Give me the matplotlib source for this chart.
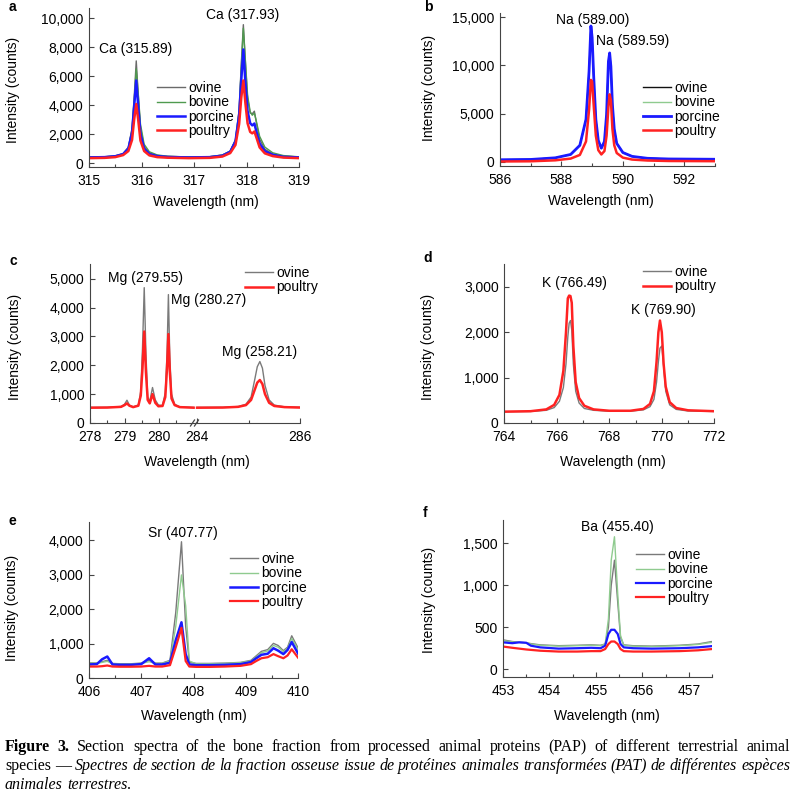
import matplotlib

matplotlib.use("Agg")
import matplotlib.pyplot as plt
from matplotlib.lines import Line2D
from matplotlib.ticker import FixedLocator, MultipleLocator, StrMethodFormatter

plt.rcParams["font.family"] = "Liberation Sans"
plt.rcParams["font.size"] = 10

W, H = 795, 797

# ---- a: Ca ----
ca_x = [315.0, 315.3, 315.5, 315.65, 315.75, 315.82, 315.86, 315.90, 315.94, 315.98, 316.05,
        316.15, 316.3, 316.5, 316.9, 317.3, 317.54, 317.69, 317.79, 317.86, 317.90, 317.94,
        317.98, 318.02, 318.07, 318.11, 318.15, 318.19, 318.25, 318.35, 318.5, 318.7, 319.0]
ca_ovine = [420, 440, 500, 650, 1100, 2400, 4500, 7050, 4600, 2450, 1150, 700, 530, 460, 420,
            440, 550, 820, 1600, 3700, 6800, 9550, 6900, 4500, 3450, 3400, 3580, 2750, 1650, 950, 630, 480, 420]
ca_bovine = [410, 430, 490, 640, 1050, 2300, 4300, 6500, 4700, 2700, 1300, 780, 560, 470, 420,
             440, 560, 830, 1600, 3600, 6600, 9300, 7000, 4700, 3550, 3300, 3450, 2850, 1850, 1100, 710, 520, 430]
ca_porcine = [390, 410, 470, 620, 1000, 2100, 3900, 5700, 3800, 2000, 1000, 620, 480, 420, 390,
              410, 510, 780, 1500, 3300, 5700, 7840, 5500, 3600, 2750, 2600, 2730, 2150, 1350, 820, 570, 430, 390]
ca_poultry = [340, 360, 410, 550, 830, 1600, 3000, 4080, 2900, 1550, 830, 530, 410, 370, 340,
              360, 450, 690, 1250, 2700, 4500, 5700, 4100, 2750, 2150, 2050, 2180, 1750, 1080, 670, 480, 380, 340]

# ---- b: Na ----
na_x = [586.0, 587.0, 587.8, 588.3, 588.6, 588.8, 588.9, 588.96, 589.0, 589.05, 589.12, 589.2, 589.3,
        589.4, 589.47, 589.53, 589.57, 589.61, 589.66, 589.72, 589.8, 590.0, 590.3, 590.8, 591.5, 593.0]
na_porcine = [200, 230, 400, 750, 1700, 4400, 9400, 14100, 12900, 8900, 4400, 2200, 1400,
              2100, 4900, 10400, 11300, 9900, 5900, 3400, 1900, 950, 550, 350, 280, 250]
na_ovine = na_porcine  # hidden under the porcine trace in the figure
na_bovine = na_porcine
na_poultry = [20, 40, 140, 320, 700, 2100, 5400, 8500, 8300, 5900, 2700, 1200, 750,
              1100, 2700, 5700, 7000, 6400, 3400, 1700, 900, 420, 220, 120, 70, 50]

# ---- c: Mg (broken axis) ----
mg_x_left = [278.0, 278.5, 278.9, 279.0, 279.07, 279.14, 279.25, 279.4, 279.47, 279.52, 279.57, 279.62, 279.67,
             279.73, 279.81, 279.89, 279.98, 280.1, 280.18, 280.23, 280.27, 280.31, 280.36, 280.45, 280.6, 281.0]
mg_ovine_left = [540, 545, 570, 650, 790, 620, 560, 620, 1100, 2600, 4690, 2400, 900,
                 750, 1230, 800, 620, 610, 1050, 2400, 4450, 2300, 1000, 650, 560, 540]
mg_poultry_left = [530, 535, 560, 620, 680, 600, 550, 600, 950, 1900, 3170, 1750, 800,
                   680, 1000, 700, 580, 590, 900, 1900, 3080, 1800, 850, 620, 550, 530]
mg_x_right = [284.0, 284.5, 284.8, 284.95, 285.05, 285.12, 285.17, 285.22, 285.27, 285.32, 285.4, 285.5, 285.7, 286.0]
mg_ovine_right = [540, 545, 570, 650, 900, 1500, 1950, 2130, 1900, 1300, 800, 620, 560, 545]
mg_poultry_right = [530, 535, 560, 620, 800, 1150, 1400, 1490, 1350, 1000, 700, 590, 550, 535]

# ---- d: K ----
k_x = [764.0, 765.0, 765.6, 765.9, 766.1, 766.25, 766.35, 766.42, 766.47, 766.52, 766.57, 766.63, 766.72,
       766.85, 767.05, 767.4, 768.0, 768.8, 769.3, 769.55, 769.7, 769.8, 769.87, 769.93, 770.0, 770.07,
       770.15, 770.3, 770.55, 771.0, 772.0]
k_poultry = [250, 260, 300, 400, 620, 1150, 2000, 2750, 2810, 2800, 2650, 1700, 900, 550, 380, 300,
             270, 270, 310, 420, 700, 1350, 2000, 2260, 2000, 1300, 800, 460, 330, 280, 260]
k_ovine = [250, 255, 280, 340, 480, 780, 1300, 1900, 2200, 2260, 2050, 1300, 700, 440, 320, 280,
           260, 260, 290, 360, 520, 900, 1350, 1650, 1700, 1250, 700, 400, 300, 265, 255]

# ---- e: Sr ----
sr_x = [406.0, 406.15, 406.25, 406.35, 406.45, 406.6, 406.8, 407.0, 407.15, 407.27, 407.4, 407.55, 407.66,
        407.77, 407.85, 407.92, 408.05, 408.3, 408.6, 408.9, 409.1, 409.2, 409.3, 409.42, 409.53, 409.62,
        409.72, 409.8, 409.88, 410.0]
sr_ovine = [450, 440, 480, 520, 430, 420, 420, 440, 520, 440, 440, 520, 1900, 3950, 1500, 460, 430, 430,
            440, 460, 520, 650, 780, 830, 1010, 950, 800, 900, 1230, 880]
sr_bovine = [440, 430, 460, 490, 420, 410, 410, 430, 480, 430, 430, 500, 1500, 2990, 2100, 500, 420, 420,
             430, 450, 500, 620, 740, 790, 950, 900, 770, 870, 1150, 830]
sr_porcine = [400, 410, 550, 630, 400, 390, 390, 410, 580, 400, 400, 450, 1100, 1620, 700, 400, 380, 380,
              390, 410, 470, 580, 680, 710, 870, 800, 700, 820, 1050, 720]
sr_poultry = [340, 340, 350, 370, 340, 335, 335, 340, 360, 340, 340, 380, 900, 1460, 500, 340, 330, 330,
              340, 360, 410, 500, 580, 610, 700, 640, 580, 660, 840, 600]

# ---- f: Ba ----
ba_x = [453.0, 453.2, 453.35, 453.5, 453.6, 453.8, 454.2, 454.6, 454.9, 455.1, 455.2, 455.27, 455.33,
        455.4, 455.47, 455.53, 455.6, 455.8, 456.2, 456.8, 457.2, 457.5]
ba_ovine = [350, 330, 320, 315, 305, 290, 280, 285, 290, 285, 300, 500, 1000, 1300, 800, 380, 290, 280, 275, 285, 300, 330]
ba_bovine = [340, 325, 320, 315, 300, 285, 275, 280, 285, 280, 300, 600, 1300, 1580, 900, 400, 285, 275, 270, 280, 295, 320]
ba_porcine = [320, 310, 320, 315, 280, 260, 245, 250, 255, 250, 280, 420, 470, 470, 420, 300, 260, 250, 245, 250, 260, 275]
ba_poultry = [270, 255, 245, 235, 230, 220, 210, 210, 215, 215, 240, 300, 330, 330, 300, 240, 215, 210, 210, 215, 225, 240]

labels4 = ["ovine", "bovine", "porcine", "poultry"]

GRAY = "#7a7a7a"
GREEN_DARK = "#4f9a4f"
GREEN_LIGHT = "#8fcb8f"
BLUE = "#1a1aff"
RED = "#ff2222"
AXC = "#444444"


def px(x, y):
    return x / W, 1 - y / H


def box(fig, left, top, right, bottom):
    return fig.add_axes([left / W, 1 - bottom / H, (right - left) / W, (bottom - top) / H])


def style(ax, xlim, ylim, xmajor, xminor, yticks):
    for s in ("top", "right"):
        ax.spines[s].set_visible(False)
    for s in ("left", "bottom"):
        ax.spines[s].set_color(AXC)
        ax.spines[s].set_linewidth(0.8)
    ax.set_xlim(*xlim)
    ax.set_ylim(*ylim)
    ax.xaxis.set_major_locator(MultipleLocator(xmajor))
    ax.xaxis.set_minor_locator(MultipleLocator(xminor))
    ax.set_yticks(yticks)
    ax.yaxis.set_major_formatter(StrMethodFormatter("{x:,.0f}"))
    ax.tick_params(which="both", direction="in", color=AXC, width=0.8, labelsize=10)
    ax.tick_params(which="major", length=3.5)
    ax.tick_params(which="minor", length=2.2)
    ax.tick_params(axis="x", pad=5)
    ax.tick_params(axis="y", pad=4)


def legend(ax, handles, labels, x, y):
    ax.legend(handles, labels, loc="upper left", bbox_to_anchor=px(x, y),
              bbox_transform=ax.figure.transFigure, frameon=False, borderpad=0,
              borderaxespad=0, handlelength=2.0, handletextpad=0.25,
              labelspacing=0.03, fontsize=10)


fig = plt.figure(figsize=(W / 100, H / 100), dpi=100)

# panel a
ax = box(fig, 89, 8, 299, 166.7)
style(ax, (315, 319), (-250, 10700), 1, 0.5, [0, 2000, 4000, 6000, 8000, 10000])
h = [ax.plot(ca_x, ca_ovine, color="#6a6a6a", lw=1.0)[0],
     ax.plot(ca_x, ca_bovine, color=GREEN_DARK, lw=1.0)[0],
     ax.plot(ca_x, ca_porcine, color=BLUE, lw=1.8)[0],
     ax.plot(ca_x, ca_poultry, color=RED, lw=1.8)[0]]
legend(ax, h, labels4, 157, 81)
ax.text(315.88, 7900, "Ca (315.89)", ha="center", va="center")
ax.text(317.93, 10200, "Ca (317.93)", ha="center", va="center")

# panel b
ax = box(fig, 500, 13, 715, 166)
style(ax, (586, 593), (-450, 15450), 2, 1, [0, 5000, 10000, 15000])
h = [ax.plot(na_x, na_ovine, color="#111111", lw=1.0)[0],
     ax.plot(na_x, na_bovine, color=GREEN_LIGHT, lw=1.0)[0],
     ax.plot(na_x, na_porcine, color=BLUE, lw=2.0)[0],
     ax.plot(na_x, na_poultry, color=RED, lw=1.8)[0]]
legend(ax, h, labels4, 643, 81)
ax.text(589.03, 14730, "Na (589.00)", ha="center", va="center")
ax.text(590.33, 12550, "Na (589.59)", ha="center", va="center")

# panel c (broken x axis)
axl = box(fig, 90, 264.3, 195, 423)
style(axl, (278, 281.04), (0, 5500), 1, 0.5, [0, 1000, 2000, 3000, 4000, 5000])
axl.xaxis.set_major_locator(FixedLocator([278, 279, 280]))
axl.xaxis.set_minor_locator(FixedLocator([278.5, 279.5, 280.5]))
axr = box(fig, 195, 264.3, 300, 423)
style(axr, (283.96, 286), (0, 5500), 2, 1, [])
axr.xaxis.set_major_locator(FixedLocator([284, 286]))
axr.xaxis.set_minor_locator(FixedLocator([285]))
axr.spines["left"].set_visible(False)
axr.tick_params(axis="y", left=False, labelleft=False)
axr.patch.set_alpha(0)
axl.plot(mg_x_left, mg_ovine_left, color=GRAY, lw=1.0)
axl.plot(mg_x_left, mg_poultry_left, color=RED, lw=1.8)
h = [axr.plot(mg_x_right, mg_ovine_right, color=GRAY, lw=1.0)[0],
     axr.plot(mg_x_right, mg_poultry_right, color=RED, lw=1.8)[0]]
legend(axr, h, ["ovine", "poultry"], 245, 266)
axl.text(279.62, 5010, "Mg (279.55)", ha="center", va="center")
axl.text(280.35, 4270, "Mg (280.27)", ha="left", va="center")
axr.text(285.22, 2465, "Mg (258.21)", ha="center", va="center")
for bx in (192.5, 196.5):
    x0, y0 = px(bx - 2, 426)
    x1, y1 = px(bx + 2, 420)
    fig.add_artist(Line2D([x0, x1], [y0, y1], color=AXC, lw=0.9))

# panel d
ax = box(fig, 504.3, 264.3, 714.3, 423)
style(ax, (764, 772), (0, 3500), 2, 1, [0, 1000, 2000, 3000])
h = [ax.plot(k_x, k_ovine, color=GRAY, lw=1.0)[0],
     ax.plot(k_x, k_poultry, color=RED, lw=1.8)[0]]
legend(ax, h, ["ovine", "poultry"], 643, 265)
ax.text(766.66, 3095, "K (766.49)", ha="center", va="center")
ax.text(770.05, 2500, "K (769.90)", ha="center", va="center")

# panel e
ax = box(fig, 89, 521.7, 298, 678.3)
style(ax, (406, 410), (0, 4530), 1, 0.5, [0, 1000, 2000, 3000, 4000])
h = [ax.plot(sr_x, sr_ovine, color=GRAY, lw=1.0)[0],
     ax.plot(sr_x, sr_bovine, color=GREEN_LIGHT, lw=1.0)[0],
     ax.plot(sr_x, sr_porcine, color=BLUE, lw=1.8)[0],
     ax.plot(sr_x, sr_poultry, color=RED, lw=1.6)[0]]
legend(ax, h, labels4, 230, 552)
ax.text(407.80, 4210, "Sr (407.77)", ha="center", va="center")

# panel f
ax = box(fig, 503, 520, 712, 676.7)
style(ax, (453, 457.5), (-90, 1780), 1, 0.5, [0, 500, 1000, 1500])
h = [ax.plot(ba_x, ba_ovine, color=GRAY, lw=1.0)[0],
     ax.plot(ba_x, ba_bovine, color=GREEN_LIGHT, lw=1.0)[0],
     ax.plot(ba_x, ba_porcine, color=BLUE, lw=1.6)[0],
     ax.plot(ba_x, ba_poultry, color=RED, lw=1.6)[0]]
legend(ax, h, labels4, 636, 548)
ax.text(455.47, 1700, "Ba (455.40)", ha="center", va="center")

# panel letters, axis titles
for letter, x, y in [("a", 12, 7), ("b", 428, 7), ("c", 13, 261), ("d", 428, 258),
                     ("e", 12, 521), ("f", 425, 513)]:
    fig.text(*px(x, y), letter, fontweight="bold", fontsize=10, ha="center", va="center")
for x, y in [(13.3, 90), (429, 88), (15, 347), (428, 347), (12.3, 608), (429, 600)]:
    fig.text(*px(x, y), "Intensity (counts)", rotation=90, ha="center", va="center")
for x, y in [(206, 201.7), (601, 200.7), (197, 462), (613, 462), (194, 716), (607, 716)]:
    fig.text(*px(x, y), "Wavelength (nm)", ha="center", va="center")

# caption, justified word by word
caption = [
    (747, True, [("Figure", "bold"), ("3.", "bold")] +
     [(w, "normal") for w in "Section spectra of the bone fraction from processed animal proteins "
      "(PAP) of different terrestrial animal".split()]),
    (766, True, [("species", "normal"), ("\u2014", "normal")] +
     [(w, "italic") for w in "Spectres de section de la fraction osseuse issue de protéines animales "
      "transformées (PAT) de différentes espèces".split()]),
    (785, False, [("animales", "italic"), ("terrestres.", "italic")]),
]
renderer = fig.canvas.get_renderer()
for y, justify, words in caption:
    artists = []
    for w, st in words:
        artists.append(fig.text(0, 1 - y / H, w, family="Liberation Serif", fontsize=11.5,
                                fontweight="bold" if st == "bold" else "normal",
                                fontstyle="italic" if st == "italic" else "normal", va="center"))
    widths = [a.get_window_extent(renderer).width for a in artists]
    gap = (790 - 5 - sum(widths)) / (len(words) - 1) if justify else 4
    x = 5
    for a, wd in zip(artists, widths):
        a.set_x(x / W)
        x += wd + gap

fig.savefig("out.png", dpi=100)
